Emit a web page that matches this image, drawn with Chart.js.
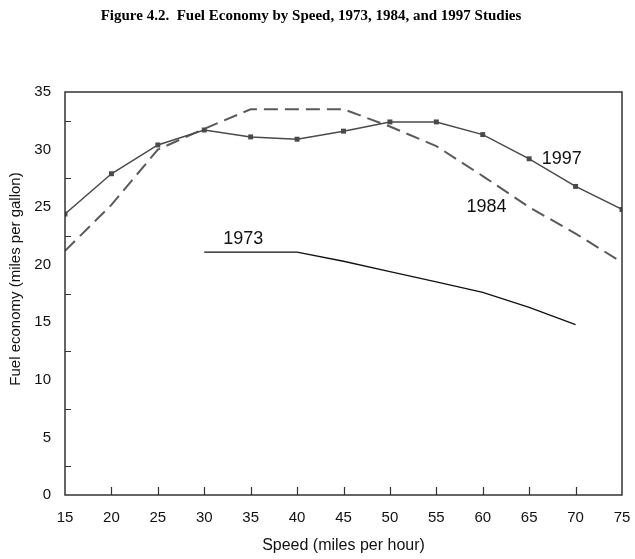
<!DOCTYPE html>
<html>
<head>
<meta charset="utf-8">
<script src="https://cdn.jsdelivr.net/npm/chart.js@4/dist/chart.umd.min.js"></script>
<style>
    html, body { margin: 0; padding: 0; background: #fff; }
    #wrap { width: 635px; height: 559px; position: relative; }
</style>
</head>
<body>
<div id="wrap"><canvas id="fuelChart"></canvas></div>
<script>
// speeds (mph) and fuel economy (mpg)
const speeds = [15, 20, 25, 30, 35, 40, 45, 50, 55, 60, 65, 70, 75];
const mpg1997 = [24.4, 27.9, 30.4, 31.7, 31.1, 30.9, 31.6, 32.4, 32.4, 31.3, 29.2, 26.8, 24.8];
const mpg1984 = [21.2, 25.2, 30.0, 31.8, 33.5, 33.5, 33.5, 32.0, 30.3, 27.7, 25.0, 22.7, 20.2];
const speeds1973 = [30, 35, 40, 45, 50, 55, 60, 65, 70];
const mpg1973 = [21.1, 21.1, 21.1, 20.3, 19.4, 18.5, 17.6, 16.3, 14.8];
const yTicks = [0, 5, 10, 15, 20, 25, 30, 35];

// where each study's name sits on the plot (speed, mpg)
const seriesLabels = [
    { text: '1973', x: 34.2, y: 22.2 },
    { text: '1984', x: 60.4, y: 25.0 },
    { text: '1997', x: 68.5, y: 29.2 }
];

const yTitle = 'Fuel economy (miles per gallon)';

function toPoints(xs, ys) {
    return xs.map((x, i) => ({ x: x, y: ys[i] }));
}

// box around the plot, inward tick marks, series names, y title
const framePlugin = {
    id: 'frame',
    afterDatasetsDraw(chart) {
        const ctx = chart.ctx;
        const a = chart.chartArea;
        const xs = chart.scales.x;
        const ys = chart.scales.y;
        ctx.save();
        ctx.strokeStyle = '#333';
        ctx.lineWidth = 1.5;
        ctx.strokeRect(a.left, a.top, a.right - a.left, a.bottom - a.top);

        ctx.lineWidth = 1.2;
        ctx.beginPath();
        for (let v = 20; v < 75; v += 5) {
            const px = Math.round(xs.getPixelForValue(v)) + 0.5;
            ctx.moveTo(px, a.bottom);
            ctx.lineTo(px, a.bottom - 8);
        }
        for (let v = 2.5; v < 35; v += 5) {
            const py = Math.round(ys.getPixelForValue(v)) + 0.5;
            ctx.moveTo(a.left, py);
            ctx.lineTo(a.left + 6, py);
        }
        ctx.stroke();

        ctx.fillStyle = '#111';
        ctx.font = '18px "Liberation Sans", Arial, sans-serif';
        ctx.textAlign = 'center';
        ctx.textBaseline = 'middle';
        seriesLabels.forEach(l => {
            ctx.fillText(l.text, xs.getPixelForValue(l.x), ys.getPixelForValue(l.y));
        });

        // axis title sits a bit above the middle of the axis in the original
        ctx.font = '15px "Liberation Sans", Arial, sans-serif';
        ctx.translate(16, 279);
        ctx.rotate(-Math.PI / 2);
        ctx.fillText(yTitle, 0, 0);
        ctx.restore();
    }
};

const tickFont = { family: '"Liberation Sans", Arial, sans-serif', size: 15 };

new Chart(document.getElementById('fuelChart'), {
    type: 'line',
    data: {
        datasets: [
            {
                label: '1997',
                data: toPoints(speeds, mpg1997),
                borderColor: '#4a4a4a',
                borderWidth: 1.5,
                pointStyle: 'rect',
                pointRadius: 3.5,
                pointBackgroundColor: '#4a4a4a',
                pointBorderWidth: 0,
                clip: 0
            },
            {
                label: '1984',
                data: toPoints(speeds, mpg1984),
                borderColor: '#5a5a5a',
                borderWidth: 2,
                borderDash: [14, 7],
                pointRadius: 0,
                clip: 0
            },
            {
                label: '1973',
                data: toPoints(speeds1973, mpg1973),
                borderColor: '#111',
                borderWidth: 1.3,
                pointRadius: 0,
                clip: 0
            }
        ]
    },
    options: {
        responsive: true,
        maintainAspectRatio: false,
        animation: false,
        layout: { padding: { left: 0, right: 13, top: 0, bottom: 0 } },
        plugins: {
            legend: { display: false },
            tooltip: { enabled: false },
            title: {
                display: true,
                text: 'Figure 4.2.  Fuel Economy by Speed, 1973, 1984, and 1997 Studies',
                color: '#000',
                font: { family: '"Liberation Serif", "Times New Roman", serif', size: 15, weight: 'bold', lineHeight: 1.2 },
                padding: { top: 7, bottom: 67 }
            }
        },
        scales: {
            x: {
                type: 'linear',
                min: 15,
                max: 75,
                grid: { display: false, drawTicks: false },
                border: { display: false },
                ticks: { stepSize: 5, color: '#111', font: tickFont, padding: 14, maxRotation: 0 },
                title: {
                    display: true,
                    text: 'Speed (miles per hour)',
                    color: '#111',
                    font: { family: '"Liberation Sans", Arial, sans-serif', size: 16 },
                    padding: { top: 6, bottom: 4 }
                },
                afterFit(scale) {
                    scale.height = 64;
                    scale.paddingLeft = 0;
                    scale.paddingRight = 0;
                }
            },
            y: {
                min: 0,
                max: 35,
                grid: { display: false, drawTicks: false },
                border: { display: false },
                afterBuildTicks(scale) { scale.ticks = yTicks.map(v => ({ value: v })); },
                ticks: { color: '#111', font: tickFont, padding: 14 },
                afterFit(scale) { scale.width = 65; }
            }
        }
    },
    plugins: [framePlugin]
});
</script>
</body>
</html>
